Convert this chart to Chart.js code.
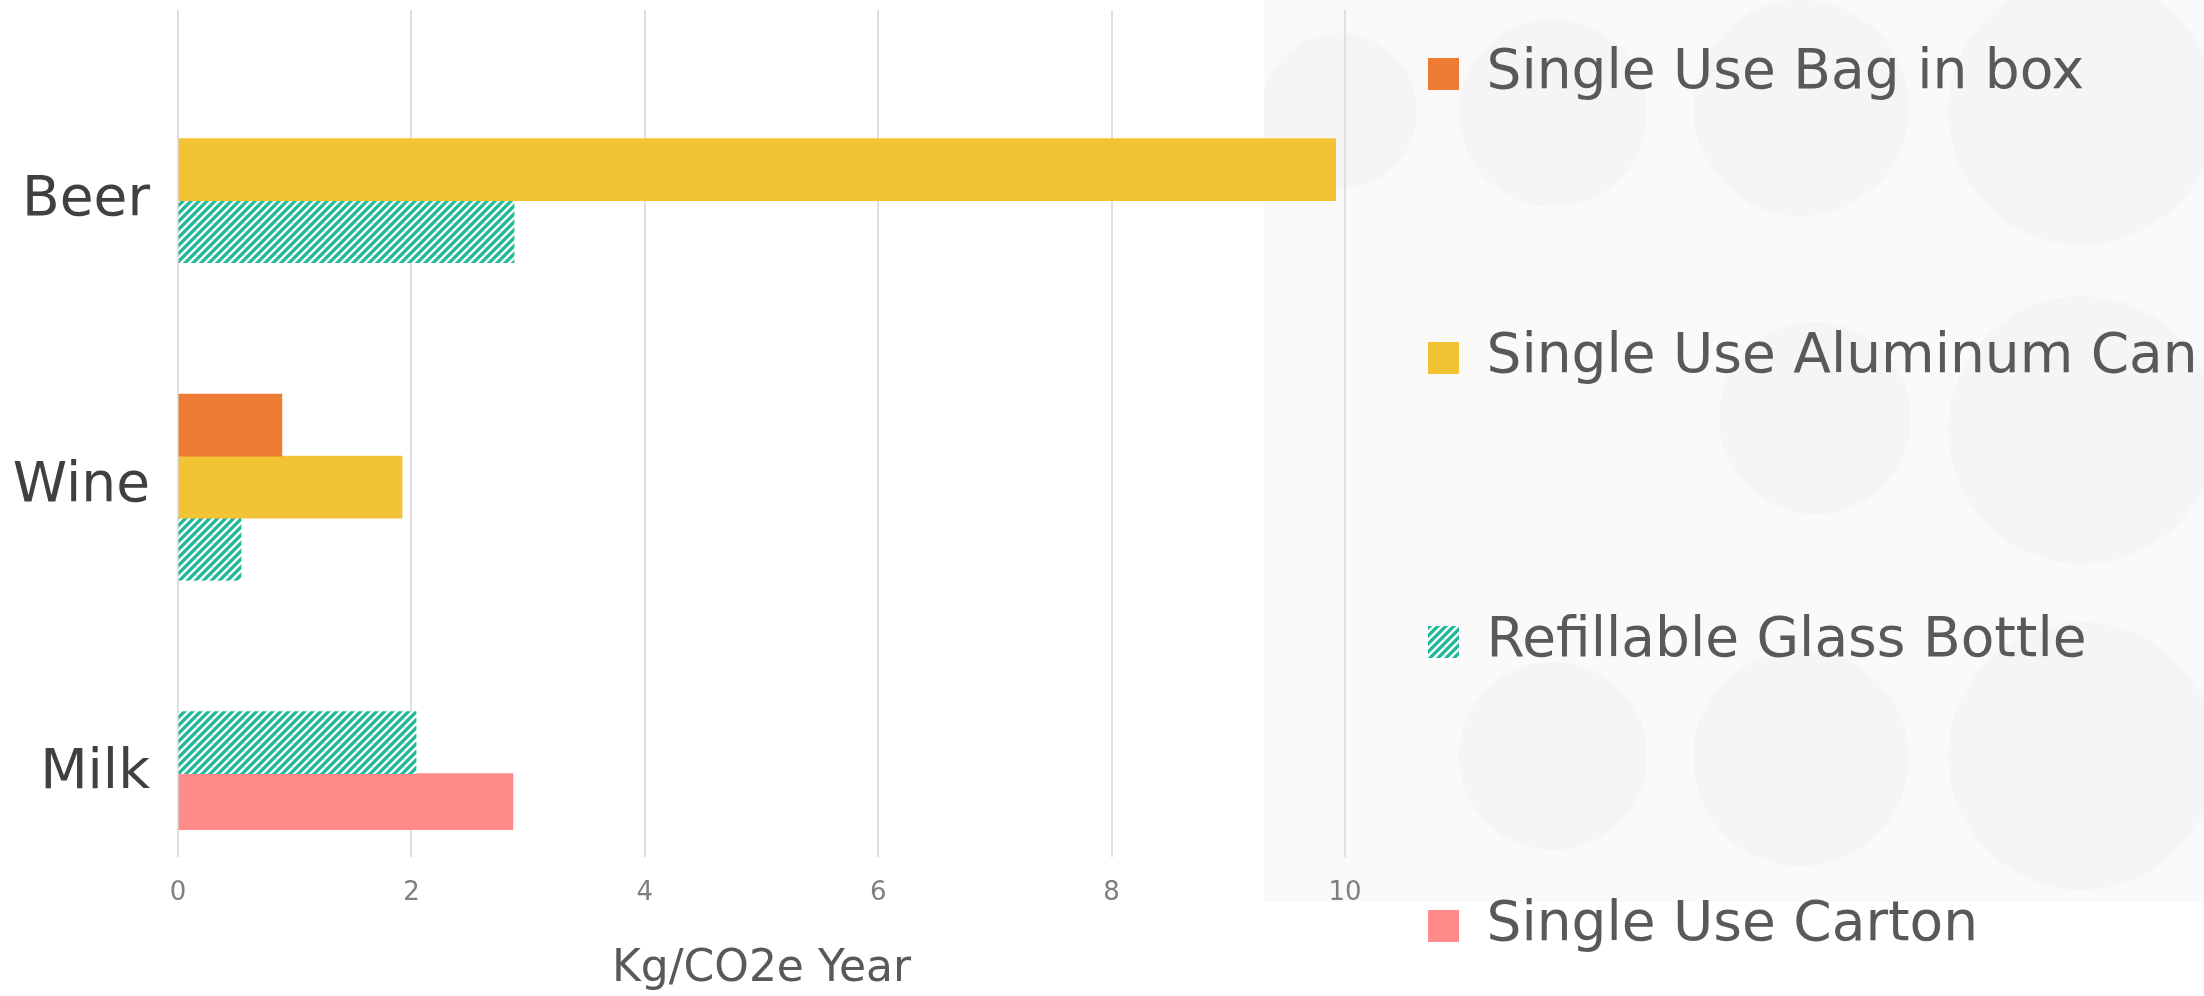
<!DOCTYPE html>
<html><head><meta charset="utf-8">
<script src="https://cdn.jsdelivr.net/npm/chart.js@4.4.0/dist/chart.umd.min.js"></script>
<style>html,body{margin:0;padding:0;background:#fff;overflow:hidden}canvas{display:block}</style>
</head><body>
<canvas id="c" width="2204" height="996"></canvas>
<script>
// ---- data ----
const categories = ['Beer', 'Wine', 'Milk'];
const seriesNames = ['Single Use Bag in box', 'Single Use Aluminum Can', 'Refillable Glass Bottle', 'Single Use Carton'];
const bagInBox    = [null, 0.89, null];
const aluminumCan = [9.92, 1.92, null];
const glassBottle = [2.88, 0.54, 2.04];
const carton      = [null, null, 2.87];
const xTickStep = 2;
const xMin = 0;
const xMax = 10;
const axisTitle = 'Kg/CO2e Year';

// ---- styles ----
const FONT = "'DejaVu Sans', sans-serif";
const canvas = document.getElementById('c');
const mainCtx = canvas.getContext('2d');

function hatch(color) {
  const s = 8;
  const t = document.createElement('canvas');
  t.width = s; t.height = s;
  const g = t.getContext('2d');
  g.fillStyle = '#ffffff'; g.fillRect(0, 0, s, s);
  g.strokeStyle = color; g.lineWidth = 3.2;
  g.beginPath();
  g.moveTo(-1, 1); g.lineTo(1, -1);
  g.moveTo(0, s); g.lineTo(s, 0);
  g.moveTo(s - 1, s + 1); g.lineTo(s + 1, s - 1);
  g.stroke();
  return mainCtx.createPattern(t, 'repeat');
}

const bgPlugin = {
  id: 'bgPanel',
  beforeDraw(chart) {
    const ctx = chart.ctx;
    ctx.save();
    ctx.fillStyle = '#fafafa';
    ctx.fillRect(1264, 0, 940, 902);
    ctx.fillStyle = '#f5f5f5';
    const circles = [[1339,111,78],[1553,113,94],[1801,108,108],[2082,111,134],
                     [1815,418,96],[2082,430,134],
                     [1553,756,94],[1801,758,108],[2082,756,134]];
    ctx.beginPath();
    ctx.rect(1264, 0, 940, 902);
    ctx.clip();
    for (const [x, y, r] of circles) {
      ctx.beginPath(); ctx.arc(x, y, r, 0, Math.PI * 2); ctx.fill();
    }
    ctx.restore();
  }
};

// let the legend box reach the right edge so its long labels are not clipped
const legendWidthPlugin = {
  id: 'legendWidth',
  afterLayout(chart) {
    const l = chart.legend;
    if (l) { l.right = chart.width; l.width = l.right - l.left; }
  }
};

const colors = ['#ED7B34', '#F1C335', hatch('#1DB998'), '#FF8A8A'];
const seriesData = [bagInBox, aluminumCan, glassBottle, carton];
const thickness = [62, 62, 62, 56];

new Chart(canvas, {
  type: 'bar',
  data: {
    labels: categories.map((c, i) => i),
    datasets: seriesNames.map((name, k) => ({
      label: name,
      data: seriesData[k],
      backgroundColor: colors[k],
      borderWidth: 0,
      barThickness: thickness[k],
      skipNull: true
    }))
  },
  options: {
    indexAxis: 'y',
    responsive: false,
    animation: false,
    events: [],
    layout: { padding: { left: 0, top: 10, right: 562.5, bottom: 0 } },
    scales: {
      x: {
        type: 'linear',
        min: xMin, max: xMax,
        ticks: { stepSize: xTickStep, color: '#7f7f7f', font: { family: FONT, size: 26 }, padding: 21 },
        grid: { color: '#e0e0e0', lineWidth: 2, drawTicks: false },
        border: { display: false },
        title: { display: true, text: axisTitle, color: '#595959', font: { family: FONT, size: 44 }, padding: { top: 0, bottom: 0 } },
        afterFit(s) { s.height = 139; s.paddingLeft = 0; s.paddingRight = 0; }
      },
      y: {
        type: 'linear',
        reverse: true,
        offset: false,
        min: -0.665, max: 2.291,
        afterBuildTicks(s) { s.ticks = categories.map((c, i) => ({ value: i })); },
        ticks: { callback: v => categories[v], color: '#404040', font: { family: FONT, size: 55 }, padding: 28 },
        grid: { display: false, drawTicks: false, offset: false },
        border: { display: false },
        afterFit(s) { s.width = 178; s.paddingTop = 0; s.paddingBottom = 0; }
      },
      y2: {
        type: 'linear',
        position: 'right',
        display: true,
        ticks: { display: false },
        grid: { display: false, drawTicks: false },
        border: { display: false },
        afterFit(s) { s.width = 46.5; s.paddingTop = 0; s.paddingBottom = 0; }
      }
    },
    plugins: {
      tooltip: { enabled: false },
      legend: {
        position: 'right',
        align: 'start',
        maxWidth: 250,
        labels: {
          boxWidth: 31,
          boxHeight: 32,
          padding: 36.5,
          color: '#595959',
          font: { family: FONT, size: 55, lineHeight: 4.5 },
          generateLabels(chart) {
            const items = Chart.defaults.plugins.legend.labels.generateLabels(chart);
            return items.map(it => Object.assign(it, { text: [it.text], lineWidth: 0 }));
          }
        }
      }
    }
  },
  plugins: [bgPlugin, legendWidthPlugin]
});
</script>
</body></html>
